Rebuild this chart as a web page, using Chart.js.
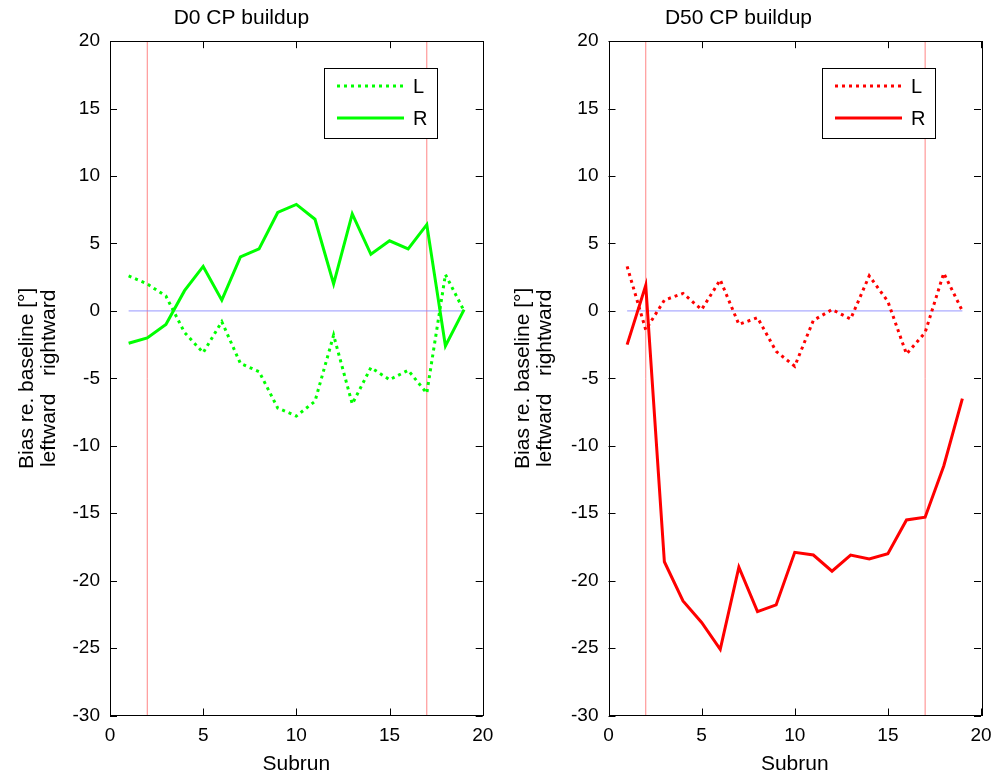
<!DOCTYPE html>
<html>
<head>
<meta charset="utf-8">
<title>CP buildup</title>
<script src="https://cdn.jsdelivr.net/npm/chart.js@4.4.1/dist/chart.umd.min.js"></script>
<style>
  body { margin: 0; background: #fff; }
  #wrap { position: relative; width: 993px; height: 776px; }
  canvas { position: absolute; top: 0; }
</style>
</head>
<body>
<div id="wrap">
  <canvas id="d0" width="496" height="776" style="left:0"></canvas>
  <canvas id="d50" width="497" height="776" style="left:496px"></canvas>
</div>
<script>
// subrun index and per-condition bias (deg) for left/right sides
const subruns = [1, 2, 3, 4, 5, 6, 7, 8, 9, 10, 11, 12, 13, 14, 15, 16, 17, 18, 19];
const d0Left = [2.6, 2.0, 1.1, -1.6, -3.1, -0.8, -3.9, -4.5, -7.2, -7.8, -6.7, -1.8, -6.9, -4.2, -5.1, -4.4, -6.1, 2.7, 0.0];
const d0Right = [-2.4, -2.0, -1.0, 1.5, 3.3, 0.8, 4.0, 4.6, 7.3, 7.9, 6.8, 2.0, 7.2, 4.2, 5.2, 4.6, 6.4, -2.6, 0.1];
const d50Left = [3.3, -1.4, 0.8, 1.3, 0.1, 2.3, -1.0, -0.5, -3.0, -4.1, -0.7, 0.1, -0.6, 2.6, 0.7, -3.2, -1.6, 2.8, 0.0];
const d50Right = [-2.5, 1.9, -18.6, -21.5, -23.1, -25.1, -19.0, -22.3, -21.8, -17.9, -18.1, -19.3, -18.1, -18.4, -18.0, -15.5, -15.3, -11.5, -6.5];

// buildup start / end markers and axis ranges
const markerSubruns = [2, 17];
const xRange = [0, 20];
const yRange = [-30, 20];
const legendLabels = ['L', 'R'];

const FONT = "'Liberation Sans', Arial, sans-serif";

function pts(vals) {
    return vals.map((v, i) => ({ x: subruns[i], y: v }));
}

// box, inward tick marks and the legend, MATLAB style
const framePlugin = {
    id: 'frame',
    afterDraw(chart) {
        const ctx = chart.ctx;
        const { left, right, top, bottom } = chart.chartArea;
        const xs = chart.scales.x, ys = chart.scales.y;
        ctx.save();
        ctx.strokeStyle = '#000';
        ctx.lineWidth = 1;
        ctx.strokeRect(Math.round(left) + 0.5, Math.round(top) + 0.5,
            Math.round(right - left), Math.round(bottom - top));
        ctx.beginPath();
        ys.ticks.forEach(t => {
            const y = Math.round(ys.getPixelForValue(t.value)) + 0.5;
            ctx.moveTo(left, y); ctx.lineTo(left + 7, y);
            ctx.moveTo(right - 7, y); ctx.lineTo(right, y);
        });
        xs.ticks.forEach(t => {
            const x = Math.round(xs.getPixelForValue(t.value)) + 0.5;
            ctx.moveTo(x, bottom); ctx.lineTo(x, bottom - 7);
            ctx.moveTo(x, top); ctx.lineTo(x, top + 7);
        });
        ctx.stroke();

        // legend
        const bw = 113, bh = 70;
        const bx = Math.round(right - 46 - bw), by = Math.round(top + 27);
        ctx.fillStyle = '#fff';
        ctx.fillRect(bx, by, bw, bh);
        ctx.strokeRect(bx + 0.5, by + 0.5, bw, bh);
        const color = chart.data.datasets[0].borderColor;
        const rows = [by + 18, by + 50];
        ctx.font = '20px ' + FONT;
        ctx.textBaseline = 'middle';
        rows.forEach((ry, i) => {
            ctx.beginPath();
            ctx.strokeStyle = color;
            ctx.lineWidth = 3;
            ctx.setLineDash(i === 0 ? [3, 4] : []);
            ctx.moveTo(bx + 13, ry); ctx.lineTo(bx + 80, ry);
            ctx.stroke();
            ctx.setLineDash([]);
            ctx.fillStyle = '#000';
            ctx.fillText(legendLabels[i], bx + 89, ry + 1);
        });
        ctx.restore();
    }
};

function makeChart(id, title, leftVals, rightVals, color, axisW, rightPad) {
    const datasets = [
        { data: pts(leftVals), borderColor: color, borderWidth: 3, borderDash: [3, 4], borderCapStyle: 'butt' },
        { data: pts(rightVals), borderColor: color, borderWidth: 3 },
        { data: [{ x: subruns[0], y: 0 }, { x: subruns[subruns.length - 1], y: 0 }], borderColor: 'rgba(140,140,255,0.9)', borderWidth: 1 }
    ];
    markerSubruns.forEach(m => {
        datasets.push({ data: [{ x: m, y: yRange[0] }, { x: m, y: yRange[1] }], borderColor: 'rgba(255,120,120,0.9)', borderWidth: 1 });
    });
    datasets.forEach(d => { d.pointRadius = 0; d.tension = 0; d.fill = false; });

    return new Chart(document.getElementById(id), {
        type: 'line',
        data: { datasets },
        options: {
            responsive: false,
            animation: false,
            layout: { padding: { left: 0, right: rightPad, top: 0, bottom: 0 } },
            plugins: {
                legend: { display: false },
                tooltip: { enabled: false },
                title: {
                    display: true, text: title, color: '#000',
                    font: { family: FONT, size: 21, weight: 'normal' },
                    padding: { top: 6, bottom: 10 }
                }
            },
            scales: {
                x: {
                    type: 'linear', min: xRange[0], max: xRange[1],
                    grid: { display: false, drawTicks: false },
                    border: { display: false },
                    ticks: { stepSize: 5, color: '#000', padding: 9, font: { family: FONT, size: 19 } },
                    title: {
                        display: true, text: 'Subrun', color: '#000',
                        font: { family: FONT, size: 21, lineHeight: 1 },
                        padding: { top: 0, bottom: 1 }
                    },
                    afterFit(s) { s.height = 60.5; s.paddingLeft = 0; s.paddingRight = 0; }
                },
                y: {
                    min: yRange[0], max: yRange[1],
                    grid: { display: false, drawTicks: false },
                    border: { display: false },
                    ticks: { stepSize: 5, color: '#000', padding: 10, font: { family: FONT, size: 19 } },
                    title: {
                        display: true, text: ['Bias re. baseline [°]', 'leftward   rightward'], color: '#000',
                        font: { family: FONT, size: 21, lineHeight: 1.05 },
                        padding: { top: 16, bottom: 0 }
                    },
                    afterFit(s) { s.width = axisW; s.paddingTop = 0; s.paddingBottom = 0; }
                }
            }
        },
        plugins: [framePlugin]
    });
}

makeChart('d0', 'D0 CP buildup', d0Left, d0Right, '#00ff00', 110, 13.3);
makeChart('d50', 'D50 CP buildup', d50Left, d50Right, '#ff0000', 112.5, 12);
</script>
</body>
</html>
